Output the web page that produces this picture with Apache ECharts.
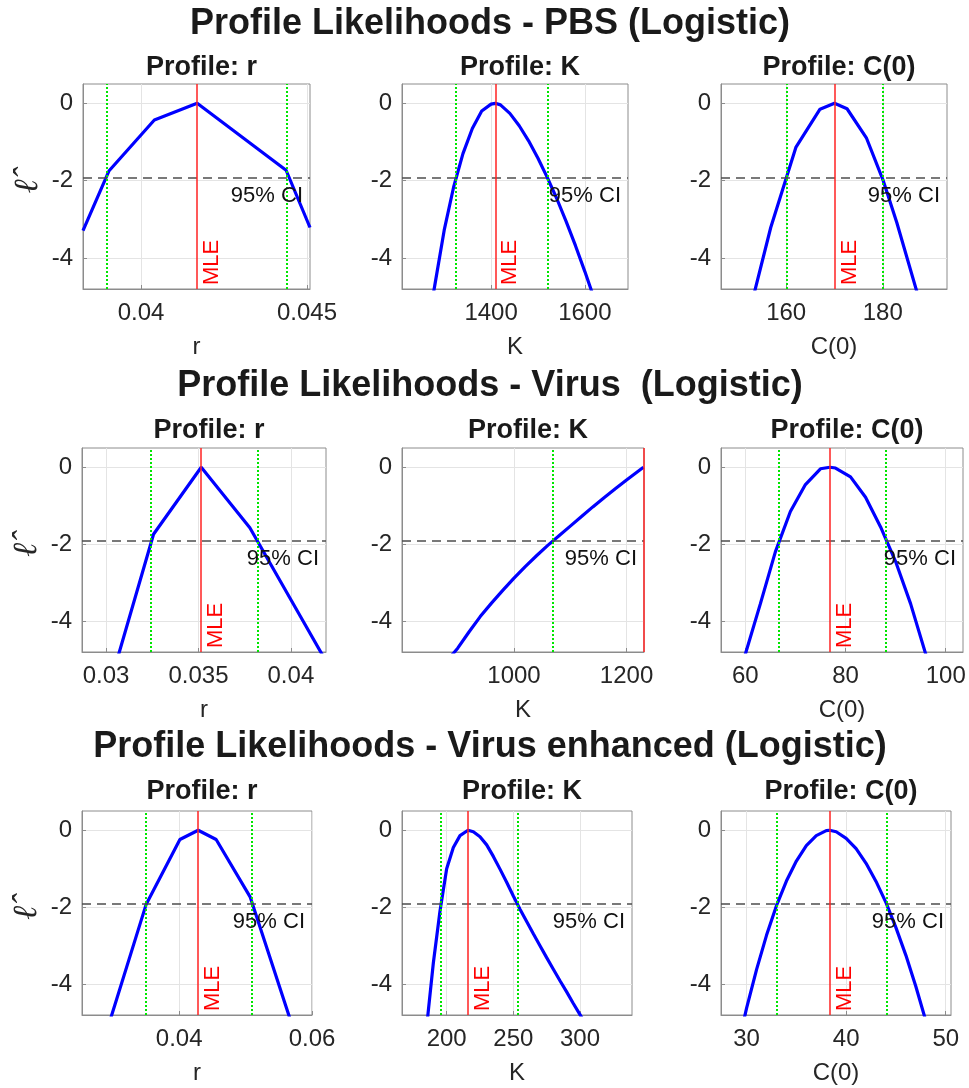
<!DOCTYPE html>
<html>
<head>
<meta charset="utf-8">
<script src="https://cdn.jsdelivr.net/npm/echarts@6/dist/echarts.min.js"></script>
<style>
  html, body { margin: 0; padding: 0; background: #fff; }
  #chart { width: 969px; height: 1088px; }
</style>
</head>
<body>
<div id="chart"></div>
<script>
// ---- values ----
const rowTitles = [
  'Profile Likelihoods - PBS (Logistic)',
  'Profile Likelihoods - Virus  (Logistic)',
  'Profile Likelihoods - Virus enhanced (Logistic)'
];
const paramNames = ['r', 'K', 'C(0)'];
const ciThreshold = -1.92;
const yTicks = [-4, -2, 0];
const yLim = [-4.8, 0.5];

// PBS
const pbsRX = [0.03825, 0.03903, 0.0404, 0.04169, 0.04437, 0.04509];
const pbsRY = [-3.29, -1.75, -0.43, 0, -1.73, -3.21];
const pbsRMle = 0.04169, pbsRCi = [0.03898, 0.0444];
const pbsRTicks = [0.04, 0.045], pbsRLim = [0.03825, 0.04509];

const pbsKX = [1260, 1280, 1300, 1320, 1340, 1360, 1380, 1400, 1409, 1420, 1440, 1460, 1480, 1500, 1520, 1540, 1560, 1580, 1600, 1620];
const pbsKY = [-6.1, -4.7, -3.28, -2.17, -1.3, -0.65, -0.2, -0.02, 0, -0.04, -0.26, -0.58, -0.97, -1.42, -1.92, -2.46, -3.05, -3.68, -4.35, -5.05];
const pbsKMle = 1409, pbsKCi = [1325, 1520];
const pbsKTicks = [1400, 1600], pbsKLim = [1210, 1692];

const pbsCX = [151.0, 156.8, 162.0, 167.0, 170.0, 172.6, 176.6, 180.1, 182.9, 188.5];
const pbsCY = [-6.09, -3.21, -1.14, -0.15, 0, -0.14, -0.89, -2.0, -3.08, -5.49];
const pbsCMle = 170, pbsCCi = [160.1, 180.0];
const pbsCTicks = [160, 180], pbsCLim = [146.5, 193.3];

// Virus
const virRX = [0.02997, 0.03257, 0.03515, 0.03778, 0.04038, 0.04298];
const virRY = [-6.04, -1.74, 0, -1.57, -3.76, -5.95];
const virRMle = 0.03515, virRCi = [0.03244, 0.03823];
const virRTicks = [0.03, 0.035, 0.04], virRLim = [0.0287, 0.0419];

const virKX = [880, 900, 920, 940, 960, 980, 1000, 1020, 1040, 1060, 1080, 1100, 1120, 1140, 1160, 1180, 1200, 1220, 1230];
const virKY = [-5.05, -4.7, -4.28, -3.88, -3.53, -3.2, -2.88, -2.58, -2.3, -2.03, -1.78, -1.53, -1.28, -1.03, -0.79, -0.56, -0.33, -0.11, 0];
const virKMle = 1230, virKCi = [1068];
const virKTicks = [1000, 1200], virKLim = [801, 1231];

const virCX = [57, 60, 63, 66, 69, 72, 75, 76.9, 78, 81, 84, 87, 90, 93, 96, 99];
const virCY = [-6.2, -4.86, -3.55, -2.2, -1.15, -0.45, -0.04, 0, -0.02, -0.25, -0.78, -1.55, -2.45, -3.55, -4.85, -6.3];
const virCMle = 76.9, virCCi = [66.66, 88.1];
const virCTicks = [60, 80, 100], virCLim = [55.15, 103.45];

// Virus enhanced
const enhRX = [0.029, 0.03504, 0.04011, 0.04286, 0.04557, 0.05068, 0.058];
const enhRY = [-5.27, -1.92, -0.24, 0, -0.24, -1.73, -5.59];
const enhRMle = 0.04286, enhRCi = [0.03495, 0.05098];
const enhRTicks = [0.04, 0.06], enhRLim = [0.02537, 0.06];

const enhKX = [180, 185, 190, 195, 200, 205, 210, 216, 220, 225, 230, 235, 240, 245, 250, 255, 260, 265, 270, 275, 280, 285, 290, 295, 300, 305];
const enhKY = [-6.9, -5.1, -3.45, -2.1, -1.0, -0.45, -0.14, 0, -0.04, -0.17, -0.38, -0.68, -1.01, -1.35, -1.71, -2.05, -2.37, -2.69, -3.0, -3.31, -3.61, -3.91, -4.2, -4.5, -4.79, -5.08];
const enhKMle = 216, enhKCi = [195.7, 253];
const enhKTicks = [200, 250, 300], enhKLim = [166.5, 339];

const enhCX = [28, 29, 30, 31, 32, 33, 34, 35, 36, 37, 38, 38.33, 39, 40, 41, 42, 43, 44, 45, 46, 47, 48, 49];
const enhCY = [-6.99, -5.75, -4.62, -3.62, -2.73, -1.96, -1.32, -0.8, -0.4, -0.14, -0.01, 0, -0.04, -0.21, -0.48, -0.86, -1.33, -1.88, -2.53, -3.25, -4.06, -4.95, -5.92];
const enhCMle = 38.33, enhCCi = [33.06, 44.06];
const enhCTicks = [30, 40, 50], enhCLim = [27.43, 50.53];

// panels in row-major order
const panels = [
  { x: pbsRX, y: pbsRY, mle: pbsRMle, ci: pbsRCi, ticks: pbsRTicks, lim: pbsRLim, mleLabel: true },
  { x: pbsKX, y: pbsKY, mle: pbsKMle, ci: pbsKCi, ticks: pbsKTicks, lim: pbsKLim, mleLabel: true },
  { x: pbsCX, y: pbsCY, mle: pbsCMle, ci: pbsCCi, ticks: pbsCTicks, lim: pbsCLim, mleLabel: true },
  { x: virRX, y: virRY, mle: virRMle, ci: virRCi, ticks: virRTicks, lim: virRLim, mleLabel: true },
  { x: virKX, y: virKY, mle: virKMle, ci: virKCi, ticks: virKTicks, lim: virKLim, mleLabel: false },
  { x: virCX, y: virCY, mle: virCMle, ci: virCCi, ticks: virCTicks, lim: virCLim, mleLabel: true },
  { x: enhRX, y: enhRY, mle: enhRMle, ci: enhRCi, ticks: enhRTicks, lim: enhRLim, mleLabel: true },
  { x: enhKX, y: enhKY, mle: enhKMle, ci: enhKCi, ticks: enhKTicks, lim: enhKLim, mleLabel: true },
  { x: enhCX, y: enhCY, mle: enhCMle, ci: enhCCi, ticks: enhCTicks, lim: enhCLim, mleLabel: true }
];

// ---- layout (pixels) ----
const rowTop = [84, 448, 811];
const rowBottom = [289, 652, 1015];
const colEdges = [
  [[83, 310], [402, 628], [721, 947]],
  [[82, 326], [402, 644], [721, 963]],
  [[82, 312], [402, 632], [721, 951]]
];
const mainTitleMid = [19, 381, 742.5];
const subTitleMid = [62.5, 425.5, 786.5];

const FONT = '"Liberation Sans", Arial, Helvetica, sans-serif';
const TXT = '#262626';
const BOX = '#8c8c8c';
const fmt = v => String(Number(Number(v).toPrecision(6)));

const grid = [], xAxis = [], yAxis = [], series = [], title = [];

rowTitles.forEach((t, r) => {
  title.push({
    text: t, left: 485, top: mainTitleMid[r] - 18, textAlign: 'center',
    textStyle: { fontFamily: FONT, fontSize: 36, fontWeight: 'bold', color: '#1a1a1a' }
  });
});

panels.forEach((p, i) => {
  const r = Math.floor(i / 3), c = i % 3;
  const [x0, x1] = colEdges[r][c];
  const top = rowTop[r], h = rowBottom[r] - rowTop[r];

  grid.push({
    left: x0, top: top, width: x1 - x0, height: h,
    show: true, borderColor: BOX, borderWidth: 1, backgroundColor: 'transparent'
  });

  title.push({
    text: 'Profile: ' + paramNames[c], left: (x0 + x1) / 2, top: subTitleMid[r] - 13.5, textAlign: 'center',
    textStyle: { fontFamily: FONT, fontSize: 27, fontWeight: 'bold', color: '#1a1a1a' }
  });

  xAxis.push({
    type: 'value', gridIndex: i, min: p.lim[0], max: p.lim[1],
    name: paramNames[c], nameLocation: 'middle', nameGap: 46,
    nameTextStyle: { fontFamily: FONT, fontSize: 24, color: TXT },
    axisLine: { show: true, onZero: false, lineStyle: { color: BOX } },
    axisTick: { show: true, inside: true, length: 4, customValues: p.ticks, lineStyle: { color: BOX } },
    axisLabel: { customValues: p.ticks, formatter: fmt, margin: 12, fontFamily: FONT, fontSize: 24, color: TXT },
    splitLine: { show: true, lineStyle: { color: '#e4e4e4', width: 1 } }
  });

  yAxis.push({
    type: 'value', gridIndex: i, min: yLim[0], max: yLim[1],
    name: c === 0 ? 'ℓ\u0302' : '', nameLocation: 'middle', nameGap: 38,
    nameTextStyle: { fontFamily: '"DejaVu Serif", serif', fontStyle: 'italic', fontSize: 34, color: TXT },
    axisLine: { show: true, onZero: false, lineStyle: { color: BOX } },
    axisTick: { show: true, inside: true, length: 4, customValues: yTicks, lineStyle: { color: BOX } },
    axisLabel: { customValues: yTicks, formatter: fmt, margin: 10, fontFamily: FONT, fontSize: 24, color: TXT },
    splitLine: { show: true, lineStyle: { color: '#e4e4e4', width: 1 } }
  });

  const marks = [];
  p.ci.forEach(v => marks.push({
    xAxis: v, lineStyle: { color: '#00e600', type: [2, 2], width: 2 }, label: { show: false }
  }));
  marks.push({
    yAxis: ciThreshold, lineStyle: { color: '#4d4d4d', type: [9, 6], width: 1.5 },
    label: { show: true, formatter: '95% CI', position: 'insideEndBottom', distance: 7,
             fontFamily: FONT, fontSize: 22, color: '#111' }
  });
  marks.push({
    xAxis: p.mle, lineStyle: { color: '#ff2222', type: 'solid', width: 1.5 },
    label: { show: p.mleLabel, formatter: 'MLE', position: 'insideStartBottom', distance: 4,
             fontFamily: FONT, fontSize: 22, color: '#ff0000' }
  });

  series.push({
    type: 'line', xAxisIndex: i, yAxisIndex: i,
    data: p.x.map((x, j) => [x, p.y[j]]),
    symbol: 'none', smooth: false, clip: true, silent: true, animation: false,
    lineStyle: { color: '#0000ff', width: 3.2 },
    markLine: { symbol: 'none', silent: true, animation: false, precision: 8, data: marks }
  });
});

const chart = echarts.init(document.getElementById('chart'));
chart.setOption({
  backgroundColor: '#ffffff',
  animation: false,
  textStyle: { fontFamily: FONT },
  title, grid, xAxis, yAxis, series
});
</script>
</body>
</html>
